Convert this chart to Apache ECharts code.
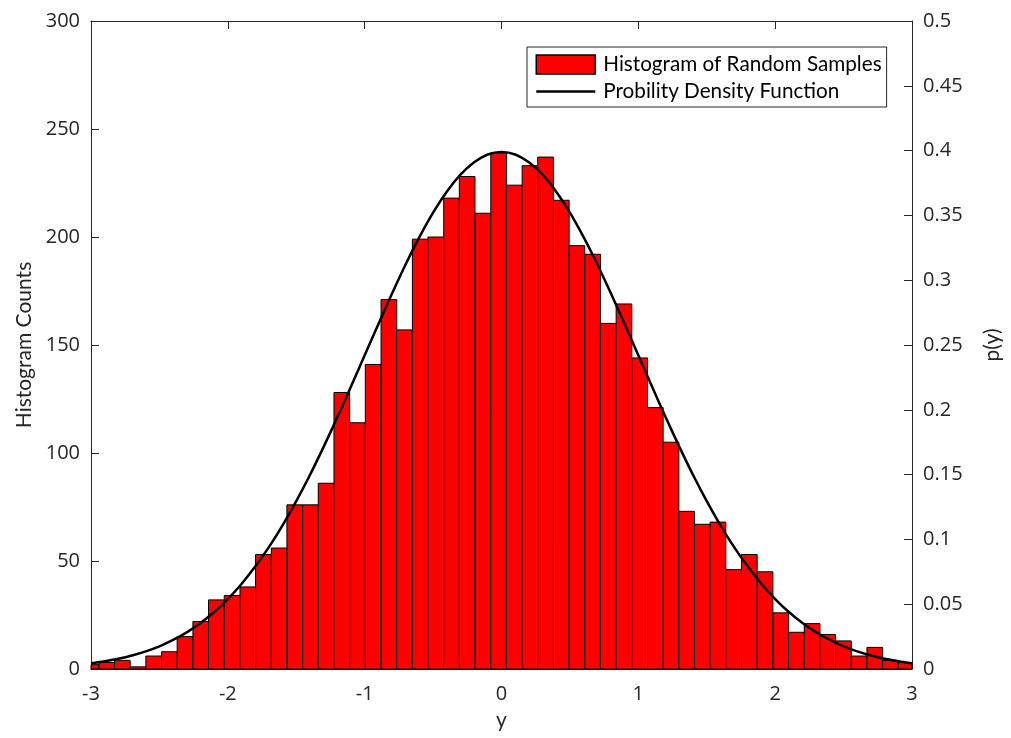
<!DOCTYPE html>
<html>
<head>
<meta charset="utf-8">
<script src="https://cdn.jsdelivr.net/npm/echarts@6/dist/echarts.min.js"></script>
<style>
  html, body { margin: 0; padding: 0; background: #ffffff; }
  #chart { width: 1011px; height: 738px; }
</style>
</head>
<body>
<div id="chart"></div>
<script>
// Histogram bin centres (y) and their counts
const binCenters = [
  -3.000, -2.885, -2.771, -2.656, -2.542, -2.427, -2.313, -2.198, -2.084, -1.969,
  -1.854, -1.740, -1.625, -1.511, -1.396, -1.282, -1.167, -1.052, -0.938, -0.823,
  -0.709, -0.594, -0.480, -0.365, -0.251, -0.136, -0.021, 0.093, 0.208, 0.322,
  0.437, 0.551, 0.666, 0.780, 0.895, 1.010, 1.124, 1.239, 1.353, 1.468,
  1.582, 1.697, 1.811, 1.926, 2.041, 2.155, 2.270, 2.384, 2.499, 2.613,
  2.728, 2.842, 2.957
];
const binCounts = [
  2, 3, 4, 1, 6, 8, 15, 22, 32, 34,
  38, 53, 56, 76, 76, 86, 128, 114, 141, 171,
  157, 199, 200, 218, 228, 211, 239, 224, 233, 237,
  217, 196, 192, 160, 169, 144, 121, 105, 73, 67,
  68, 46, 53, 45, 26, 17, 21, 16, 13, 6,
  10, 4, 3
];

// Probability density curve p(y)
const pdfX = [
  -3.0, -2.9, -2.8, -2.7, -2.6, -2.5, -2.4, -2.3, -2.2, -2.1,
  -2.0, -1.9, -1.8, -1.7, -1.6, -1.5, -1.4, -1.3, -1.2, -1.1,
  -1.0, -0.9, -0.8, -0.7, -0.6, -0.5, -0.4, -0.3, -0.2, -0.1,
  0.0, 0.1, 0.2, 0.3, 0.4, 0.5, 0.6, 0.7, 0.8, 0.9,
  1.0, 1.1, 1.2, 1.3, 1.4, 1.5, 1.6, 1.7, 1.8, 1.9,
  2.0, 2.1, 2.2, 2.3, 2.4, 2.5, 2.6, 2.7, 2.8, 2.9, 3.0
];
const pdfY = [
  0.0044, 0.0060, 0.0079, 0.0104, 0.0136, 0.0175, 0.0224, 0.0283, 0.0355, 0.0440,
  0.0540, 0.0656, 0.0790, 0.0940, 0.1109, 0.1295, 0.1497, 0.1714, 0.1942, 0.2179,
  0.2420, 0.2661, 0.2897, 0.3123, 0.3332, 0.3521, 0.3683, 0.3814, 0.3910, 0.3970,
  0.3989, 0.3970, 0.3910, 0.3814, 0.3683, 0.3521, 0.3332, 0.3123, 0.2897, 0.2661,
  0.2420, 0.2179, 0.1942, 0.1714, 0.1497, 0.1295, 0.1109, 0.0940, 0.0790, 0.0656,
  0.0540, 0.0440, 0.0355, 0.0283, 0.0224, 0.0175, 0.0136, 0.0104, 0.0079, 0.0060, 0.0044
];

const histName = 'Histogram of Random Samples';
const pdfName = 'Probility Density Function';

const BIN_WIDTH = 0.11456;
const AXIS_COLOR = '#262626';
const TICK_FONT = 'Open Sans';
const NAME_FONT = 'Lato';

const chart = echarts.init(document.getElementById('chart'), null, { renderer: 'canvas' });

const axisCommon = {
  axisLine: { show: true, onZero: false, lineStyle: { color: AXIS_COLOR, width: 1 } },
  axisTick: { show: true, inside: true, length: 8, lineStyle: { color: AXIS_COLOR, width: 1 } },
  splitLine: { show: false },
  axisLabel: { color: AXIS_COLOR, fontFamily: TICK_FONT, fontSize: 20 }
};

const option = {
  backgroundColor: '#ffffff',
  animation: false,
  grid: { left: 91, right: 99, top: 21, bottom: 69, containLabel: false },
  legend: {
    orient: 'vertical',
    left: 527,
    top: 47,
    padding: [7, 5, 5, 8],
    itemWidth: 59,
    itemHeight: 19,
    itemGap: 6,
    backgroundColor: '#ffffff',
    borderColor: AXIS_COLOR,
    borderWidth: 1,
    borderRadius: 0,
    selectedMode: false,
    textStyle: { color: '#000000', fontFamily: NAME_FONT, fontSize: 20.7, padding: [0, 0, 0, 3] },
    data: [
      { name: histName, icon: 'rect', itemStyle: { color: '#ff0000', borderColor: '#000000', borderWidth: 1.5 } },
      {
        name: pdfName,
        itemStyle: { color: 'rgba(0,0,0,0)', borderColor: 'rgba(0,0,0,0)', borderWidth: 0 },
        lineStyle: { color: '#000000', width: 2.5 }
      }
    ]
  },
  xAxis: [
    Object.assign({}, axisCommon, {
      type: 'value', position: 'bottom', min: -3, max: 3, interval: 1,
      name: 'y', nameLocation: 'middle', nameGap: 41,
      nameTextStyle: { color: AXIS_COLOR, fontFamily: NAME_FONT, fontSize: 21 },
      axisLabel: Object.assign({}, axisCommon.axisLabel, { margin: 15 })
    }),
    Object.assign({}, axisCommon, {
      type: 'value', position: 'top', min: -3, max: 3, interval: 1,
      axisLabel: { show: false }
    })
  ],
  yAxis: [
    Object.assign({}, axisCommon, {
      type: 'value', position: 'left', min: 0, max: 300, interval: 50,
      name: 'Histogram Counts', nameLocation: 'middle', nameGap: 50, nameRotate: 90,
      nameTextStyle: { color: AXIS_COLOR, fontFamily: NAME_FONT, fontSize: 21 },
      axisLabel: Object.assign({}, axisCommon.axisLabel, { margin: 11 })
    }),
    Object.assign({}, axisCommon, {
      type: 'value', position: 'right', min: 0, max: 0.5, interval: 0.05,
      name: 'p(y)', nameLocation: 'middle', nameGap: 70, nameRotate: 90,
      nameTextStyle: { color: AXIS_COLOR, fontFamily: NAME_FONT, fontSize: 21 },
      axisLabel: Object.assign({}, axisCommon.axisLabel, { margin: 11 })
    })
  ],
  series: [
    {
      name: histName,
      type: 'custom',
      xAxisIndex: 0,
      yAxisIndex: 0,
      itemStyle: { color: '#ff0000', borderColor: '#000000', borderWidth: 1 },
      encode: { x: 0, y: 1 },
      data: binCenters.map((c, i) => [c, binCounts[i]]),
      renderItem: function (params, api) {
        const c = api.value(0);
        const n = api.value(1);
        const p0 = api.coord([c - BIN_WIDTH / 2, n]);
        const p1 = api.coord([c + BIN_WIDTH / 2, 0]);
        const shape = echarts.graphic.clipRectByRect(
          { x: p0[0], y: p0[1], width: p1[0] - p0[0], height: p1[1] - p0[1] },
          { x: params.coordSys.x, y: params.coordSys.y, width: params.coordSys.width, height: params.coordSys.height }
        );
        if (!shape) return null;
        return {
          type: 'rect',
          shape: shape,
          style: { fill: '#ff0000', stroke: '#000000', lineWidth: 1 }
        };
      },
      z: 2
    },
    {
      name: pdfName,
      type: 'line',
      xAxisIndex: 0,
      yAxisIndex: 1,
      symbol: 'none',
      smooth: 0.3,
      lineStyle: { color: '#000000', width: 2.5 },
      itemStyle: { color: '#000000' },
      data: pdfX.map((x, i) => [x, pdfY[i]]),
      z: 3
    }
  ]
};

chart.setOption(option);
</script>
</body>
</html>
